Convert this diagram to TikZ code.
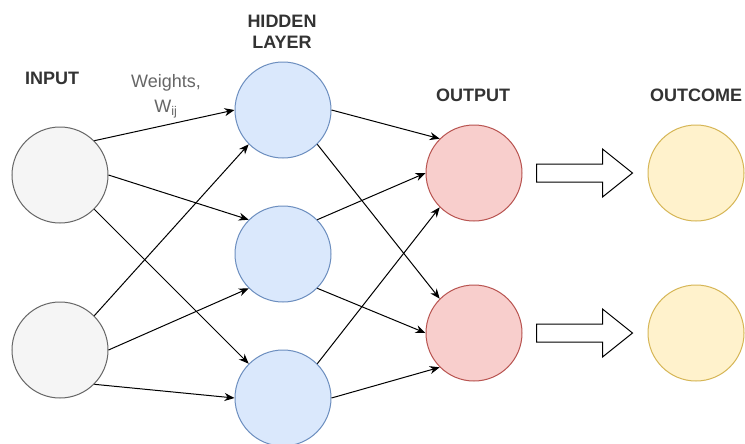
\documentclass[tikz,border=0pt]{standalone}
\usepackage{fontspec}
\setmainfont{Liberation Sans}
\usetikzlibrary{arrows.meta, calc}
\definecolor{inputfill}{HTML}{F5F5F5}
\definecolor{inputline}{HTML}{666666}
\definecolor{hiddenfill}{HTML}{DAE8FC}
\definecolor{hiddenline}{HTML}{6C8EBF}
\definecolor{outputfill}{HTML}{F8CECC}
\definecolor{outputline}{HTML}{B85450}
\definecolor{resultfill}{HTML}{FFF2CC}
\definecolor{resultline}{HTML}{D6B656}
\definecolor{ink}{HTML}{333333}
\definecolor{muted}{HTML}{666666}
\tikzset{
  neuron/.style={circle, minimum size=72pt, inner sep=0pt, line width=0.75pt},
  innode/.style={neuron, fill=inputfill, draw=inputline},
  hidnode/.style={neuron, fill=hiddenfill, draw=hiddenline},
  outnode/.style={neuron, fill=outputfill, draw=outputline},
  resnode/.style={neuron, fill=resultfill, draw=resultline},
  heading/.style={font=\fontsize{13.5}{16}\selectfont\bfseries, text=ink, align=center},
  weightlabel/.style={font=\fontsize{13.5}{19}\selectfont, text=muted, align=center},
  arrow/.style={-{Stealth[length=7.5pt,width=6pt]}, line width=0.75pt, draw=black},
  blockarrow/.style={draw=black, fill=white, line width=0.75pt, line join=miter},
}

\begin{document}
\begin{tikzpicture}[x=0.75pt, y=-0.75pt]
  \fill[white] (0,0) rectangle (745,443);
  \useasboundingbox (0,0) rectangle (745,443);

  % layers
  \node[innode] (in1) at (60,175) {};
  \node[innode] (in2) at (60,350) {};
  \node[hidnode] (h1) at (283,110) {};
  \node[hidnode] (h2) at (283,254) {};
  \node[hidnode] (h3) at (283,398) {};
  \node[outnode] (o1) at (474,173) {};
  \node[outnode] (o2) at (474,333) {};
  \node[resnode] (r1) at (696,173) {};
  \node[resnode] (r2) at (696,333) {};

  % headings
  \node[heading] (inlabel) at (52,78) {INPUT};
  \node[heading] (hidlabel) at (282,32) {HIDDEN\\LAYER};
  \node[heading] (outlabel) at (473,95) {OUTPUT};
  \node[heading] (reslabel) at (696,95) {OUTCOME};
  \node[weightlabel] (wlabel) at (166,96) {Weights,\\W\textsubscript{ij}};

  % input -> hidden
  \draw[arrow] (in1.45) -- (h1.180);
  \draw[arrow] (in1.0) -- (h2.135);
  \draw[arrow] (in1.-45) -- (h3.135);
  \draw[arrow] (in2.45) -- (h1.-135);
  \draw[arrow] (in2.0) -- (h2.-135);
  \draw[arrow] (in2.-45) -- (h3.180);

  % hidden -> output
  \draw[arrow] (h1.0) -- (o1.135);
  \draw[arrow] (h1.-45) -- (o2.135);
  \draw[arrow] (h2.45) -- (o1.180);
  \draw[arrow] (h2.-45) -- (o2.180);
  \draw[arrow] (h3.45) -- (o1.-135);
  \draw[arrow] (h3.0) -- (o2.-135);

  % output -> outcome
  \draw[blockarrow] ($(o1.east)+(14,-9)$) -- ++(66,0) -- ++(0,-15) -- ++(30,24)
    -- ++(-30,24) -- ++(0,-15) -- ++(-66,0) -- cycle;
  \draw[blockarrow] ($(o2.east)+(14,-9)$) -- ++(66,0) -- ++(0,-15) -- ++(30,24)
    -- ++(-30,24) -- ++(0,-15) -- ++(-66,0) -- cycle;
\end{tikzpicture}
\end{document}
